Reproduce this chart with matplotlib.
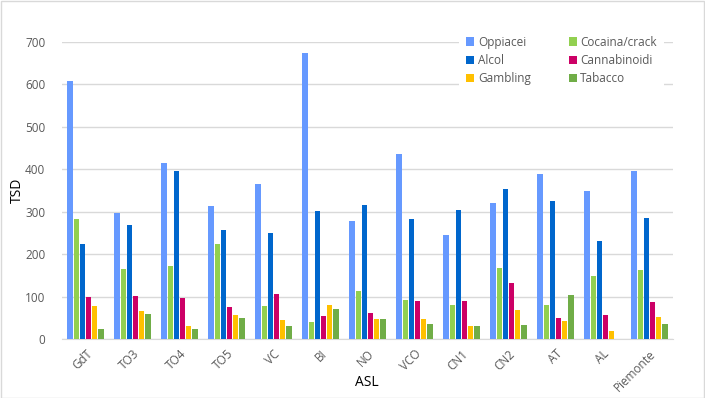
import numpy as np
import matplotlib
matplotlib.use("Agg")
import matplotlib.pyplot as plt
from matplotlib.patches import Rectangle

# Dati
asl = ["GdT", "TO3", "TO4", "TO5", "VC", "BI", "NO", "VCO", "CN1", "CN2", "AT", "AL", "Piemonte"]
oppiacei = [607, 296, 414, 313, 365, 675, 279, 435, 246, 320, 390, 350, 395]
cocaina = [282, 166, 173, 223, 78, 40, 114, 92, 80, 168, 80, 149, 163]
alcol = [225, 268, 395, 258, 251, 301, 317, 284, 305, 353, 325, 231, 285]
cannabinoidi = [100, 102, 97, 76, 107, 54, 62, 90, 90, 133, 50, 57, 88]
gambling = [78, 66, 31, 57, 45, 80, 47, 47, 31, 69, 43, 19, 52]
tabacco = [24, 59, 24, 50, 31, 71, 47, 35, 31, 33, 104, 0, 35]

serie = [
    ("Oppiacei", oppiacei, "#6699FF"),
    ("Cocaina/crack", cocaina, "#92D050"),
    ("Alcol", alcol, "#0066CC"),
    ("Cannabinoidi", cannabinoidi, "#CC0066"),
    ("Gambling", gambling, "#FFC000"),
    ("Tabacco", tabacco, "#70AD47"),
]

plt.rcParams["font.family"] = ["Open Sans", "DejaVu Sans"]
fig = plt.figure(figsize=(7.05, 3.98), dpi=100)
ax = fig.add_axes([62 / 705, 59 / 398, 611 / 705, 297 / 398])

x = np.arange(len(asl))
larg = 0.11
passo = 0.132
barre = []
for i, (nome, valori, colore) in enumerate(serie):
    b = ax.bar(x + (i - 2.5) * passo, valori, width=larg, color=colore, label=nome, zorder=3)
    barre.append(b)

ax.set_xlim(-0.5, len(asl) - 0.5)
ax.set_ylim(0, 700)
ax.set_yticks(range(0, 701, 100))
ax.grid(axis="y", color="#D9D9D9", linewidth=1, zorder=0)
for s in ["top", "right", "left"]:
    ax.spines[s].set_visible(False)
ax.spines["bottom"].set_color("#D9D9D9")
ax.tick_params(axis="both", length=0, labelsize=8.5, colors="#595959")
ax.tick_params(axis="y", pad=12)
ax.tick_params(axis="x", pad=6)
ax.set_xticks(x)
ax.set_xticklabels(asl, rotation=45, ha="right", rotation_mode="anchor")

fig.text(367 / 705, 1 - 382 / 398, "ASL", fontsize=10, color="black", ha="center", va="center")
fig.text(17 / 705, 1 - 190 / 398, "TSD", fontsize=10, color="black", ha="center", va="center", rotation=90)

ordine = [0, 2, 4, 1, 3, 5]
leg = ax.legend([barre[k] for k in ordine], [serie[k][0] for k in ordine],
                ncol=2, loc="upper right", bbox_to_anchor=(0.995, 1.065),
                frameon=True, fontsize=8.5, handlelength=0.7, handleheight=0.7,
                handletextpad=0.3, columnspacing=3.2, labelspacing=0.45,
                borderpad=0.6, edgecolor="white", facecolor="white", framealpha=1)
leg.get_frame().set_linewidth(0)
for t in leg.get_texts():
    t.set_color("#595959")

fig.patches.append(Rectangle((0.5 / 705, 0.5 / 398), 703.5 / 705, 396.5 / 398,
                             transform=fig.transFigure, fill=False,
                             edgecolor="#D9D9D9", linewidth=1))

fig.savefig("out.png", dpi=100)
